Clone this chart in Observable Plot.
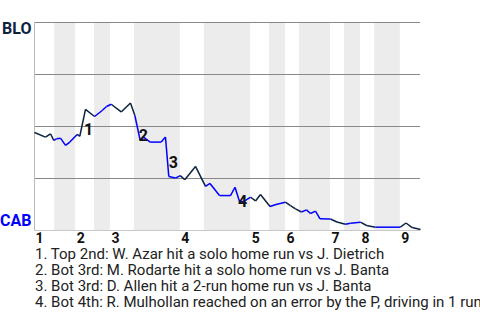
<!DOCTYPE html>
<html>
<head>
<meta charset="utf-8">
<script src="https://cdn.jsdelivr.net/npm/d3@7"></script>
<script src="https://cdn.jsdelivr.net/npm/@observablehq/plot@0.6"></script>
<style>
  body { margin: 0; background: #fff; font-family: Roboto, "Noto Sans", sans-serif; overflow: hidden; }
  #caption { padding-left: 35px; font-size: 15px; line-height: 16px; color: #222; white-space: nowrap; overflow: hidden; width: 445px; }
</style>
</head>
<body>
<div id="chart"></div>
<div id="caption"></div>
<script>
// Game progress units (plate appearances, estimated)
const halfInningStarts = [0, 4.7, 9.6, 14.0, 17.7, 23.3, 34.0, 39.6, 50.4, 54.8, 58.5, 61.8, 69.0, 72.3, 76.0, 79.3, 85.3];
const gameEnd = 90;
const inningLabels = ["1", "2", "3", "4", "5", "6", "7", "8", "9"];

// Win probability for BLO (1 = BLO, 0 = CAB)
const playX = [0, 2.56, 3.73, 4.5, 5.13, 6.06, 7.23, 8.23, 9.96, 10.56, 11.89, 14.0, 15.78, 16.79, 17.9, 20.21, 22.38, 23.4,
  24.64, 25.41, 26.98, 29.54, 30.54, 31.31, 32.87, 34.0, 35.04, 37.54, 39.87, 40.92, 43.13, 45.7, 46.75, 47.8, 48.73,
  50.4, 51.53, 52.69, 54.91, 56.31, 58.5, 59.69, 60.85, 62.25, 63.42, 64.35, 65.52, 66.57, 69.0, 70.53, 72.51, 73.68,
  76.0, 77.41, 79.51, 85.3, 86.62, 88.06, 90];
const winProb = [0.471, 0.449, 0.465, 0.433, 0.441, 0.444, 0.409, 0.425, 0.462, 0.453, 0.582, 0.548, 0.577, 0.596, 0.607, 0.570, 0.613, 0.553,
  0.433, 0.449, 0.425, 0.425, 0.449, 0.260, 0.252, 0.264, 0.244, 0.308, 0.212, 0.226, 0.168, 0.168, 0.208, 0.139, 0.139,
  0.160, 0.142, 0.173, 0.115, 0.125, 0.136, 0.120, 0.104, 0.089, 0.099, 0.082, 0.093, 0.056, 0.055, 0.041, 0.030, 0.035,
  0.040, 0.024, 0.016, 0.016, 0.036, 0.014, 0.005];

const noteLabels = ["1", "2", "3", "4"];
const noteX = [12.6, 25.4, 32.4, 48.5];
const noteY = [0.486, 0.457, 0.327, 0.139];
const noteTexts = [
  "1. Top 2nd: W. Azar hit a solo home run vs J. Dietrich",
  "2. Bot 3rd: M. Rodarte hit a solo home run vs J. Banta",
  "3. Bot 3rd: D. Allen hit a 2-run home run vs J. Banta",
  "4. Bot 4th: R. Mulhollan reached on an error by the P, driving in 1 run"
];
const gridValues = [0.25, 0.5, 0.75, 1];

const NAVY = "#0c2340", BLUE = "#0000ff";

// Derived tables
const bounds = [...halfInningStarts, gameEnd];
const bands = [];
for (let i = 1; i < halfInningStarts.length; i += 2) bands.push({x1: bounds[i], x2: bounds[i + 1]});
const innings = inningLabels.map((t, i) => ({x: halfInningStarts[2 * i], t}));
function halfOf(x) { let h = 0; for (let i = 0; i < halfInningStarts.length; i++) if (x >= halfInningStarts[i]) h = i; return h; }
const segs = [];
for (let i = 1; i < playX.length; i++) {
  const mid = (playX[i - 1] + playX[i]) / 2;
  segs.push({x1: playX[i - 1], y1: winProb[i - 1], x2: playX[i], y2: winProb[i], bottom: halfOf(mid) % 2 === 1});
}
const notes = noteLabels.map((t, i) => ({t, x: noteX[i], y: noteY[i]}));

const chart = Plot.plot({
  width: 480, height: 246,
  marginTop: 22, marginBottom: 16, marginLeft: 34, marginRight: 60,
  x: {domain: [0, gameEnd], axis: null},
  y: {domain: [0, 1], axis: null},
  style: {fontFamily: "Roboto, sans-serif", background: "white"},
  marks: [
    Plot.rect(bands, {x1: "x1", x2: "x2", y1: 0, y2: 1, fill: "#ececec"}),
    Plot.ruleY(gridValues, {stroke: "#888", strokeWidth: 1}),
    Plot.ruleY([0], {stroke: "#c8c8c8", strokeWidth: 1}),
    Plot.ruleX([0], {stroke: "#bbb", strokeWidth: 1}),
    Plot.link(segs.filter(d => !d.bottom), {x1: "x1", y1: "y1", x2: "x2", y2: "y2", stroke: NAVY, strokeWidth: 1.5}),
    Plot.link(segs.filter(d => d.bottom), {x1: "x1", y1: "y1", x2: "x2", y2: "y2", stroke: BLUE, strokeWidth: 1.5}),
    Plot.text(notes, {x: "x", y: "y", text: "t", fontSize: 16, fontWeight: "bold", fill: "#111"}),
    Plot.text(innings, {x: "x", y: 0, text: "t", textAnchor: "start", dx: 1, dy: 8, fontSize: 14, fontWeight: "bold", fill: "#111"}),
    Plot.text(["BLO"], {x: 0, y: 1, text: d => d, textAnchor: "end", dx: -3, dy: 6, fontSize: 16, fontWeight: "bold", fill: NAVY}),
    Plot.text(["CAB"], {x: 0, y: 0, text: d => d, textAnchor: "end", dx: -3, dy: -10, fontSize: 16, fontWeight: "bold", fill: BLUE})
  ]
});
document.getElementById("chart").appendChild(chart);
const cap = document.getElementById("caption");
noteTexts.forEach(t => { const d = document.createElement("div"); d.textContent = t; cap.appendChild(d); });
</script>
</body>
</html>
